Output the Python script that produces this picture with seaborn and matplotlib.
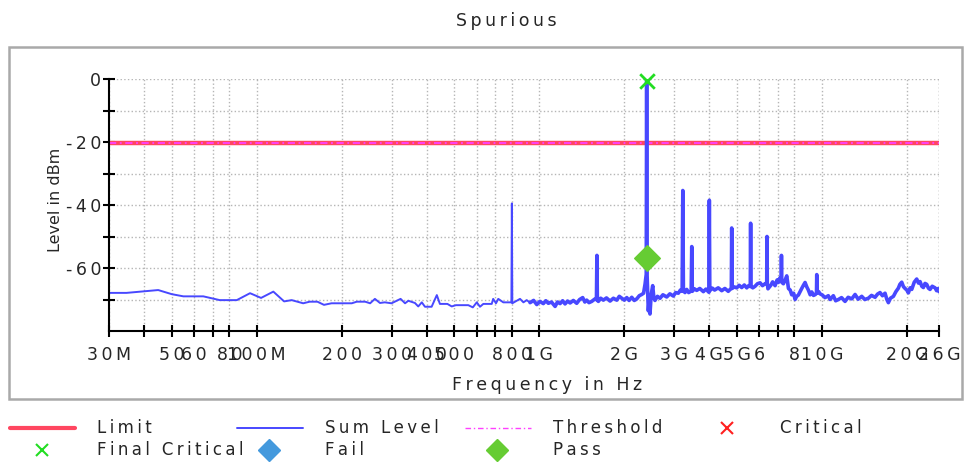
import numpy as np
import pandas as pd
import seaborn as sns
import matplotlib.pyplot as plt
from matplotlib.lines import Line2D
from matplotlib.patches import Rectangle

# ---- data (frequency in MHz, level in dBm) ----
low_freq = [30, 34.6, 44.8, 50, 55, 64.7, 74, 85, 94.7, 103.6, 114.5, 125, 133, 146, 154,
            164, 173, 184, 205, 217, 226, 242, 252, 262, 273, 284, 300, 323, 335, 344,
            363, 373, 384, 394, 416, 434, 445, 473, 490, 507, 561, 582, 601, 617, 634,
            679, 687, 703, 716, 746, 797, 800, 803, 855, 879, 903, 928]
low_level = [-67.9, -67.9, -67.0, -68.3, -69.0, -69.0, -70.2, -70.2, -68.0, -69.5, -67.5,
             -70.6, -70.2, -71.2, -70.7, -70.7, -71.7, -71.2, -71.2, -71.2, -70.7, -70.7,
             -71.2, -69.8, -71.1, -70.9, -71.2, -69.8, -71.2, -70.4, -71.1, -72.2, -70.9,
             -72.3, -72.3, -68.6, -71.4, -71.4, -72.2, -71.8, -71.8, -72.5, -70.9, -72.3,
             -71.4, -71.4, -69.8, -71.2, -69.8, -70.9, -70.9, -39.5, -71.2, -69.8, -70.9,
             -70.2, -71.0]

high_freq = [928, 955, 980, 1005, 1034, 1055, 1077, 1105, 1138, 1160, 1185, 1210, 1234,
             1260, 1286, 1320, 1357, 1390, 1425, 1450, 1472, 1500, 1534, 1570, 1594, 1600,
             1606, 1619, 1650, 1686, 1730, 1781, 1830, 1881, 1920, 1959, 2000, 2041, 2080,
             2125, 2170, 2214, 2260, 2306, 2340, 2369, 2392, 2400, 2408, 2433, 2450, 2466,
             2490, 2521, 2545, 2568, 2620, 2676, 2740, 2827, 2900, 2983, 3040, 3107, 3160,
             3205, 3222, 3238, 3280, 3327, 3380, 3450, 3466, 3482, 3540, 3609, 3700, 3810,
             3890, 3985, 4000, 4015, 4100, 4176, 4300, 4425, 4540, 4667, 4785, 4800, 4815,
             4900, 5000, 5100, 5208, 5320, 5426, 5510, 5585, 5600, 5615, 5700, 5805, 5920,
             6048, 6170, 6298, 6385, 6400, 6415, 6450, 6600, 6700, 6835, 6950, 7018, 7100,
             7185, 7200, 7215, 7314, 7420, 7518, 7580, 7622, 7730, 7830, 7950, 8046, 8150,
             8263, 8380, 8493, 8610, 8727, 8850, 8965, 9100, 9216, 9350, 9500, 9580, 9600,
             9620, 9750, 9862, 10050, 10272, 10548, 10700, 10990, 11200, 11450, 11750,
             12090, 12400, 12770, 13120, 13450, 13850, 14200, 14620, 15000, 15440, 15750,
             16080, 16400, 16750, 17000, 17210, 17500, 17930, 18300, 18670, 18900, 19190,
             19450, 19720, 20000, 20260, 20550, 20820, 21250, 21680, 22000, 22280, 22600,
             22890, 23200, 23530, 23850, 24170, 24600, 25180, 25500, 25870, 26000]
high_level = [-71.0, -70.3, -71.6, -70.6, -71.3, -70.4, -71.2, -70.8, -72.2, -70.8, -71.3,
              -70.4, -71.4, -70.5, -71.1, -70.3, -71.2, -70.0, -69.4, -70.8, -70.2, -71.0,
              -70.6, -69.9, -70.0, -56.0, -70.2, -70.6, -69.6, -70.2, -69.5, -70.5, -69.6,
              -70.2, -69.0, -69.6, -70.2, -69.4, -70.3, -69.3, -70.3, -69.8, -68.8, -68.4,
              -68.0, -65.1, -62.0, -0.5, -62.0, -73.6, -70.0, -74.6, -68.5, -65.6, -69.5,
              -70.3, -69.0, -69.6, -68.5, -69.2, -68.2, -68.9, -67.8, -68.0, -67.0, -67.4,
              -35.4, -67.2, -67.8, -66.8, -67.8, -67.3, -53.2, -67.4, -66.6, -67.1, -66.5,
              -67.5, -66.7, -67.7, -38.5, -67.2, -66.4, -67.0, -66.3, -67.2, -66.5, -67.4,
              -66.4, -47.3, -66.5, -66.0, -66.3, -65.5, -66.2, -65.4, -66.3, -65.6, -65.9,
              -45.8, -65.7, -66.3, -65.8, -65.0, -64.7, -65.6, -65.0, -64.8, -50.0, -64.9,
              -66.6, -65.5, -64.4, -65.6, -63.8, -64.6, -63.2, -64.0, -56.0, -64.5, -65.0,
              -63.8, -62.5, -64.8, -66.5, -67.0, -68.5, -68.0, -70.0, -69.0, -68.6, -67.5,
              -66.5, -65.5, -64.6, -66.0, -67.0, -68.5, -67.6, -68.7, -68.4, -67.8, -62.1,
              -68.0, -67.5, -68.2, -68.6, -69.4, -68.8, -70.0, -68.8, -70.4, -70.0, -69.4,
              -70.6, -69.3, -69.8, -68.4, -69.9, -69.0, -70.0, -69.6, -68.7, -69.3, -68.3,
              -67.8, -68.8, -68.0, -70.0, -71.0, -69.6, -69.0, -67.5, -66.4, -65.2, -64.5,
              -65.9, -66.5, -67.0, -67.9, -66.3, -66.8, -64.5, -63.5, -64.8, -64.3, -65.8,
              -66.2, -64.9, -65.2, -66.4, -66.8, -65.8, -66.3, -67.2, -66.5, -67.5]

limit_freq = [30, 26000]
limit_level = [-20.4, -20.4]

critical_freq = [2400]
critical_level = [-0.5]
pass_freq = [2400]
pass_level = [-56.8]

tick_freq = [30, 40, 50, 60, 70, 80, 100, 200, 300, 400, 500, 600, 700, 800, 1000,
             2000, 3000, 4000, 5000, 6000, 7000, 8000, 10000, 20000, 26000]
tick_text = ["30M", "", "50", "60", "", "80", "100M", "200", "300", "400", "500", "", "",
             "800", "1G", "2G", "3G", "4G", "5G", "6", "", "8", "10G", "20G", "26G"]

BLUE = "#4848ff"
RED = "#ff4660"
MAGENTA = "#ff40ff"
GREEN = "#22dd22"
PASS = "#66cc33"
FAIL = "#4499dd"

sns.set_style("white")
plt.rcParams['font.family'] = ['DejaVu Sans']

FS = 12.5


def sp(s):
    # the original uses a letter-spaced pixel font
    return "\u2009".join(s)


W, H = 965, 462
fig = plt.figure(figsize=(W / 100, H / 100), dpi=100)
ax = fig.add_axes([109 / W, 1 - 331 / H, 830 / W, 252 / H])

low = pd.DataFrame({"f": np.array(low_freq) * 1e6, "lvl": low_level})
high = pd.DataFrame({"f": np.array(high_freq) * 1e6, "lvl": high_level})
lim = pd.DataFrame({"f": np.array(limit_freq) * 1e6, "lvl": limit_level})

sns.lineplot(data=lim, x="f", y="lvl", color=RED, lw=3.2, ax=ax, estimator=None, sort=False)
sns.lineplot(data=lim, x="f", y="lvl", color=MAGENTA, lw=1.3, linestyle=(0, (4, 2, 1, 2)),
             ax=ax, estimator=None, sort=False)
sns.lineplot(data=low, x="f", y="lvl", color=BLUE, lw=1.4, ax=ax, estimator=None, sort=False)
sns.lineplot(data=high, x="f", y="lvl", color=BLUE, lw=2.6, ax=ax, estimator=None, sort=False)
sns.scatterplot(x=np.array(pass_freq) * 1e6, y=pass_level, marker="D", s=170, color=PASS,
                edgecolor=PASS, ax=ax, zorder=5)
sns.scatterplot(x=np.array(critical_freq) * 1e6, y=critical_level, marker="x", s=110,
                color=GREEN, linewidth=2, ax=ax, zorder=5, clip_on=False)

ax.set_xscale("log")
ax.set_xlim(30e6, 26e9)
ax.set_ylim(-80, 0)
ax.set_xticks([f * 1e6 for f in tick_freq])
ax.set_xticks([], minor=True)
ax.set_xticklabels([sp(t) for t in tick_text], fontsize=FS)
ax.set_yticks([0, -20, -40, -60])
ax.set_yticks([-10, -30, -50, -70], minor=True)
ax.set_yticklabels([sp(str(v)) for v in [0, -20, -40, -60]], fontsize=FS)
ax.tick_params(axis="both", which="both", direction="inout", length=9, width=1.5,
               color="black", left=True, bottom=True)
ax.tick_params(axis="y", pad=1)
ax.tick_params(axis="x", pad=6)
ax.set_xlabel("")
ax.set_ylabel("")

ax.grid(True, which="both", axis="y", color="#b5b5b5", ls=":", lw=1)
ax.grid(True, which="major", axis="x", color="#b5b5b5", ls=":", lw=1)
ax.axvline(26e9, color="#b5b5b5", ls=":", lw=1)
for s in ["top", "right"]:
    ax.spines[s].set_visible(False)
for s in ["left", "bottom"]:
    ax.spines[s].set_color("black")
    ax.spines[s].set_linewidth(1.5)

# titles
fig.text(506 / W, 1 - 21 / H, sp("Spurious"), ha="center", va="center", fontsize=FS)
fig.text(547 / W, 1 - 385 / H, sp("Frequency in Hz"), ha="center", va="center", fontsize=FS)
fig.text(55 / W, 1 - 200 / H, "Level in dBm", ha="center", va="center", rotation=90,
         fontsize=FS - 1)

# frame around the chart
fig.add_artist(Rectangle((9 / W, 1 - 399 / H), 953 / W, 352 / H, transform=fig.transFigure,
                         fill=False, ec="#a9a9a9", lw=1.8))

# legend drawn below the frame
r1, r2 = 1 - 428 / H, 1 - 450 / H
fig.add_artist(Line2D([10 / W, 75 / W], [r1, r1], color=RED, lw=3))
fig.add_artist(Line2D([237 / W, 303 / W], [r1, r1], color=BLUE, lw=1.4))
fig.add_artist(Line2D([465 / W, 531 / W], [r1, r1], color=MAGENTA, lw=1, ls=(0, (4, 2, 1, 2))))
fig.add_artist(Line2D([727 / W], [r1], color="#ff2020", marker="x", ms=9, mew=1.5))
fig.add_artist(Line2D([42 / W], [r2], color=GREEN, marker="x", ms=9, mew=1.5))
fig.add_artist(Line2D([269 / W], [r2], color=FAIL, marker="D", ms=11, mec=FAIL))
fig.add_artist(Line2D([497 / W], [r2], color=PASS, marker="D", ms=11, mec=PASS))
for x, y, t in [(97, r1, "Limit"), (325, r1, "Sum Level"), (553, r1, "Threshold"),
                (780, r1, "Critical"), (97, r2, "Final Critical"), (325, r2, "Fail"),
                (553, r2, "Pass")]:
    fig.text(x / W, y, sp(t), ha="left", va="center", fontsize=12)

fig.savefig("out.png", dpi=100)
